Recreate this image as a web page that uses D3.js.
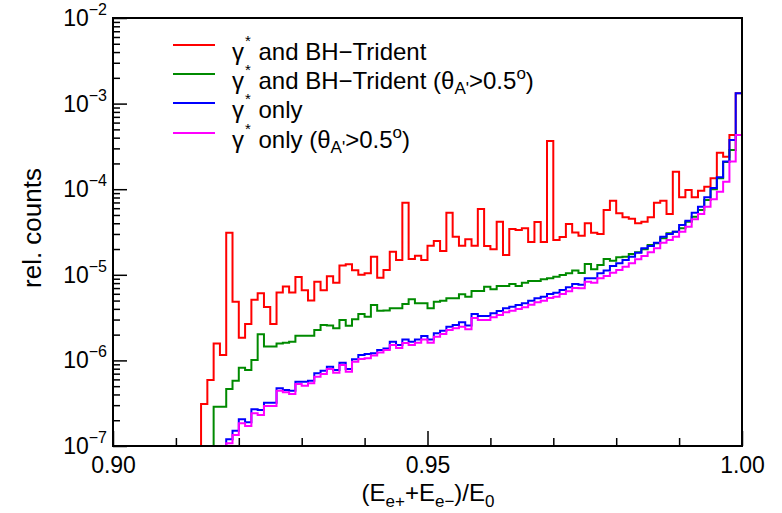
<!DOCTYPE html>
<html><head><meta charset="utf-8">
<script src="https://cdn.jsdelivr.net/npm/d3@7/dist/d3.min.js"></script>
<style>
body{margin:0;background:#fff}
svg{display:block}
text{font-family:"Liberation Sans",Arial,Helvetica,sans-serif;fill:#000}
</style>
</head><body>
<svg id="chart" width="782" height="513"></svg>
<script>
// ---- data -----------------------------------------------------------
const binLow = 0.90, binWidth = 0.001;
const xTickLabels = ["0.90", "0.95", "1.00"];
const yTickExponents = [-2, -3, -4, -5, -6, -7];
const seriesNames = ["red", "green", "blue", "magenta"];

const redValues = [
  0,0,0,0,0,0,0,0,0,0,
  0,0,0,0,3.1e-7,5.9e-7,1.58e-6,1.16e-6,3.1e-5,4.85e-6,
  1.84e-6,2.66e-6,5.1e-6,6.1e-6,4.2e-6,2.66e-6,6.2e-6,7.3e-6,6.2e-6,9.4e-6,
  6.6e-6,5.0e-6,8.3e-6,6.6e-6,9.6e-6,8.1e-6,1.28e-5,1.33e-5,1.13e-5,1.0e-5,
  1.04e-5,1.63e-5,9.25e-6,1.14e-5,1.86e-5,1.49e-5,6.95e-5,1.53e-5,1.67e-5,1.49e-5,
  2.19e-5,2.48e-5,1.9e-5,5.31e-5,2.79e-5,2.19e-5,2.6e-5,2.19e-5,5.87e-5,2.17e-5,
  1.99e-5,4.17e-5,1.7e-5,3.43e-5,3.33e-5,3.49e-5,2.42e-5,4.14e-5,2.42e-5,3.66e-4,
  2.55e-5,2.77e-5,3.92e-5,3.12e-5,2.86e-5,4.0e-5,3.1e-5,3.0e-5,5.71e-5,7.34e-5,
  5.23e-5,4.7e-5,4.52e-5,4.0e-5,4.17e-5,4.7e-5,6.95e-5,7.34e-5,5.13e-5,1.6e-4,
  8.04e-5,9.79e-5,8.04e-5,9.6e-5,1.07e-4,1.34e-4,2.67e-4,2.4e-4,4.3e-4,1.32e-3
];
const greenValues = [
  0,0,0,0,0,0,0,0,0,0,
  0,0,0,0,0,0,2.88e-7,2.88e-7,4.63e-7,5.8e-7,
  8.22e-7,7.73e-7,1.01e-6,2.02e-6,1.45e-6,1.45e-6,1.58e-6,1.61e-6,1.65e-6,1.94e-6,
  1.94e-6,1.94e-6,2.26e-6,2.59e-6,2.56e-6,2.37e-6,2.96e-6,2.54e-6,3.02e-6,3.48e-6,
  3.24e-6,4.44e-6,3.81e-6,3.83e-6,4.06e-6,4.06e-6,4.56e-6,5.18e-6,4.65e-6,4.65e-6,
  4.06e-6,4.85e-6,4.98e-6,5.31e-6,5.31e-6,5.92e-6,5.55e-6,6.47e-6,6.47e-6,7.26e-6,
  6.77e-6,7.4e-6,7.4e-6,7.81e-6,7.4e-6,8.09e-6,8.47e-6,8.47e-6,8.85e-6,9.1e-6,
  9.51e-6,9.95e-6,1.04e-5,1.12e-5,1.05e-5,1.34e-5,1.16e-5,1.3e-5,1.53e-5,1.46e-5,
  1.6e-5,1.63e-5,1.75e-5,1.83e-5,1.99e-5,2.23e-5,2.33e-5,2.67e-5,3.05e-5,3.19e-5,
  3.49e-5,4.17e-5,4.77e-5,5.71e-5,7.48e-5,9.97e-5,1.34e-4,2.08e-4,2.87e-4,4.3e-4
];
const blueValues = [
  0,0,0,0,0,0,0,0,0,0,
  0,0,0,0,0,0,0,0,1.2e-7,1.51e-7,
  2.05e-7,1.89e-7,2.69e-7,2.64e-7,3.21e-7,3.21e-7,4.72e-7,4.51e-7,4.43e-7,5.64e-7,
  5.64e-7,5.8e-7,7.06e-7,7.59e-7,8.44e-7,7.73e-7,9.4e-7,7.94e-7,1.03e-6,1.16e-6,
  1.19e-6,1.21e-6,1.32e-6,1.38e-6,1.65e-6,1.51e-6,1.76e-6,1.65e-6,1.76e-6,1.93e-6,
  1.76e-6,2.07e-6,2.22e-6,2.48e-6,2.59e-6,2.79e-6,2.56e-6,3.48e-6,3.3e-6,3.3e-6,
  3.55e-6,3.78e-6,4.06e-6,4.24e-6,4.44e-6,4.65e-6,4.98e-6,5.31e-6,5.55e-6,5.97e-6,
  6.18e-6,6.64e-6,7.14e-6,7.81e-6,7.66e-6,9.1e-6,9.1e-6,1.04e-5,1.12e-5,1.27e-5,
  1.36e-5,1.49e-5,1.63e-5,1.81e-5,2.04e-5,2.17e-5,2.37e-5,2.79e-5,3.0e-5,3.19e-5,
  3.82e-5,4.29e-5,5.31e-5,6.25e-5,8.04e-5,1.03e-4,1.38e-4,2.1e-4,3.76e-4,1.32e-3
];
const magentaValues = [
  0,0,0,0,0,0,0,0,0,0,
  0,0,0,0,0,0,0,0,1.08e-7,1.34e-7,
  1.84e-7,1.71e-7,2.41e-7,2.3e-7,2.93e-7,2.93e-7,4.43e-7,4.24e-7,4.05e-7,5.3e-7,
  5.06e-7,5.4e-7,6.45e-7,6.93e-7,7.94e-7,7.18e-7,8.83e-7,7.38e-7,9.66e-7,1.04e-6,
  1.06e-6,1.14e-6,1.24e-6,1.32e-6,1.51e-6,1.4e-6,1.6e-6,1.51e-6,1.61e-6,1.76e-6,
  1.61e-6,1.89e-6,2.03e-6,2.26e-6,2.37e-6,2.48e-6,2.31e-6,3.13e-6,2.96e-6,2.96e-6,
  3.19e-6,3.39e-6,3.65e-6,3.81e-6,3.98e-6,4.17e-6,4.48e-6,4.78e-6,4.98e-6,5.36e-6,
  5.55e-6,5.97e-6,6.41e-6,7.01e-6,6.95e-6,8.3e-6,8.09e-6,9.1e-6,9.68e-6,1.06e-5,
  1.14e-5,1.24e-5,1.36e-5,1.52e-5,1.66e-5,1.83e-5,2.04e-5,2.37e-5,2.55e-5,2.79e-5,
  3.19e-5,3.65e-5,4.45e-5,5.13e-5,6.25e-5,7.62e-5,9.35e-5,1.22e-4,2.1e-4,4.3e-4
];

// ---- layout ---------------------------------------------------------
const L = 113, R = 742, T = 18, B = 446;
const colors = {red:"#ff0000", green:"#008a00", blue:"#0000ff", magenta:"#ff00ff"};
const values = {red:redValues, green:greenValues, blue:blueValues, magenta:magentaValues};

const svg = d3.select("#chart");
const x = d3.scaleLinear().domain([0.90, 1.00]).range([L, R]);
const yMin = 1e-7, yMax = 1e-2;
const y = d3.scaleLog().domain([yMin, yMax]).range([B, T]);

// histograms
const line = d3.line().curve(d3.curveStepAfter)
  .x(d => x(d[0])).y(d => y(Math.max(d[1], yMin)));
seriesNames.forEach(name => {
  const v = values[name];
  const pts = [[binLow, 0]];
  v.forEach((val, i) => pts.push([binLow + i * binWidth, val]));
  pts.push([binLow + v.length * binWidth, v[v.length - 1]]);
  pts.push([binLow + v.length * binWidth, 0]);
  svg.append("path").attr("d", line(pts))
    .attr("fill", "none").attr("stroke", colors[name])
    .attr("stroke-width", 2).attr("stroke-linejoin", "miter");
});

// frame
svg.append("rect").attr("x", L).attr("y", T).attr("width", R - L).attr("height", B - T)
  .attr("fill", "none").attr("stroke", "#000").attr("stroke-width", 2);

// x axis
const xMajor = xTickLabels.map(Number);
const xMinor = d3.range(1, 10).map(i => 0.90 + i * 0.01).filter(t => Math.abs(t - 0.95) > 1e-9);
const gxMinor = svg.append("g").attr("transform", `translate(0,${B})`)
  .call(d3.axisBottom(x).tickValues(xMinor).tickSize(-8).tickFormat(""));
const gx = svg.append("g").attr("transform", `translate(0,${B})`)
  .call(d3.axisBottom(x).tickValues(xMajor).tickSize(-15).tickPadding(11)
    .tickFormat((d, i) => xTickLabels[i]));
[gx, gxMinor].forEach(g => {
  g.select(".domain").remove();
  g.selectAll("line").attr("stroke", "#000").attr("stroke-width", 1.5);
});
gx.selectAll("text").attr("font-size", 23).attr("font-family", "Liberation Sans, Arial, sans-serif").attr("fill", "#000");

// y axis
const yMajor = yTickExponents.map(e => Math.pow(10, e));
const yMinor = [];
for (let e = -7; e < -2; e++) for (let k = 2; k <= 9; k++) yMinor.push(k * Math.pow(10, e));
const gyMinor = svg.append("g").attr("transform", `translate(${L},0)`)
  .call(d3.axisLeft(y).tickValues(yMinor).tickSize(-7).tickFormat(""));
const gy = svg.append("g").attr("transform", `translate(${L},0)`)
  .call(d3.axisLeft(y).tickValues(yMajor).tickSize(-14).tickFormat(""));
[gy, gyMinor].forEach(g => {
  g.select(".domain").remove();
  g.selectAll("line").attr("stroke", "#000").attr("stroke-width", 1.5);
});
// y tick labels 10^n
yTickExponents.forEach(e => {
  const yy = y(Math.pow(10, e));
  const t = svg.append("text").attr("x", 107).attr("y", yy + 8)
    .attr("text-anchor", "end").attr("font-size", 23);
  t.append("tspan").text("10");
  t.append("tspan").attr("font-size", 16).attr("dy", -11).text("\u2212" + Math.abs(e));
});

// axis titles
const xt = svg.append("text").attr("x", 428).attr("y", 501).attr("text-anchor", "middle").attr("font-size", 24);
xt.append("tspan").text("(E");
xt.append("tspan").attr("font-size", 17).attr("dy", 6).text("e+");
xt.append("tspan").attr("dy", -6).text("+E");
xt.append("tspan").attr("font-size", 17).attr("dy", 6).text("e\u2212");
xt.append("tspan").attr("dy", -6).text(")/E");
xt.append("tspan").attr("font-size", 17).attr("dy", 6).text("0");

svg.append("text").attr("transform", "translate(41,228) rotate(-90)")
  .attr("text-anchor", "middle").attr("font-size", 26).text("rel. counts");

// legend
const legendRows = [
  {name:"red", text:" and BH\u2212Trident", theta:false},
  {name:"green", text:" and BH\u2212Trident (\u03b8", theta:true},
  {name:"blue", text:" only", theta:false},
  {name:"magenta", text:" only (\u03b8", theta:true}
];
const legendY = [45, 74, 103, 133];
legendRows.forEach((r, i) => {
  const ly = legendY[i];
  svg.append("line").attr("x1", 173).attr("x2", 215).attr("y1", ly).attr("y2", ly)
    .attr("stroke", colors[r.name]).attr("stroke-width", 2);
  const t = svg.append("text").attr("x", 232).attr("y", ly + 15).attr("font-size", 24);
  t.append("tspan").text("\u03b3");
  t.append("tspan").attr("font-size", 15).attr("dy", -14).attr("dx", 1).text("*");
  t.append("tspan").attr("dy", 14).attr("dx", 1).text(r.text);
  if (r.theta) {
    t.append("tspan").attr("font-size", 17).attr("dy", 5).text("A'");
    t.append("tspan").attr("dy", -5).text(">0.5");
    t.append("tspan").attr("font-size", 17).attr("dy", -10).text("o");
    t.append("tspan").attr("dy", 10).text(")");
  }
});
</script>
</body></html>
